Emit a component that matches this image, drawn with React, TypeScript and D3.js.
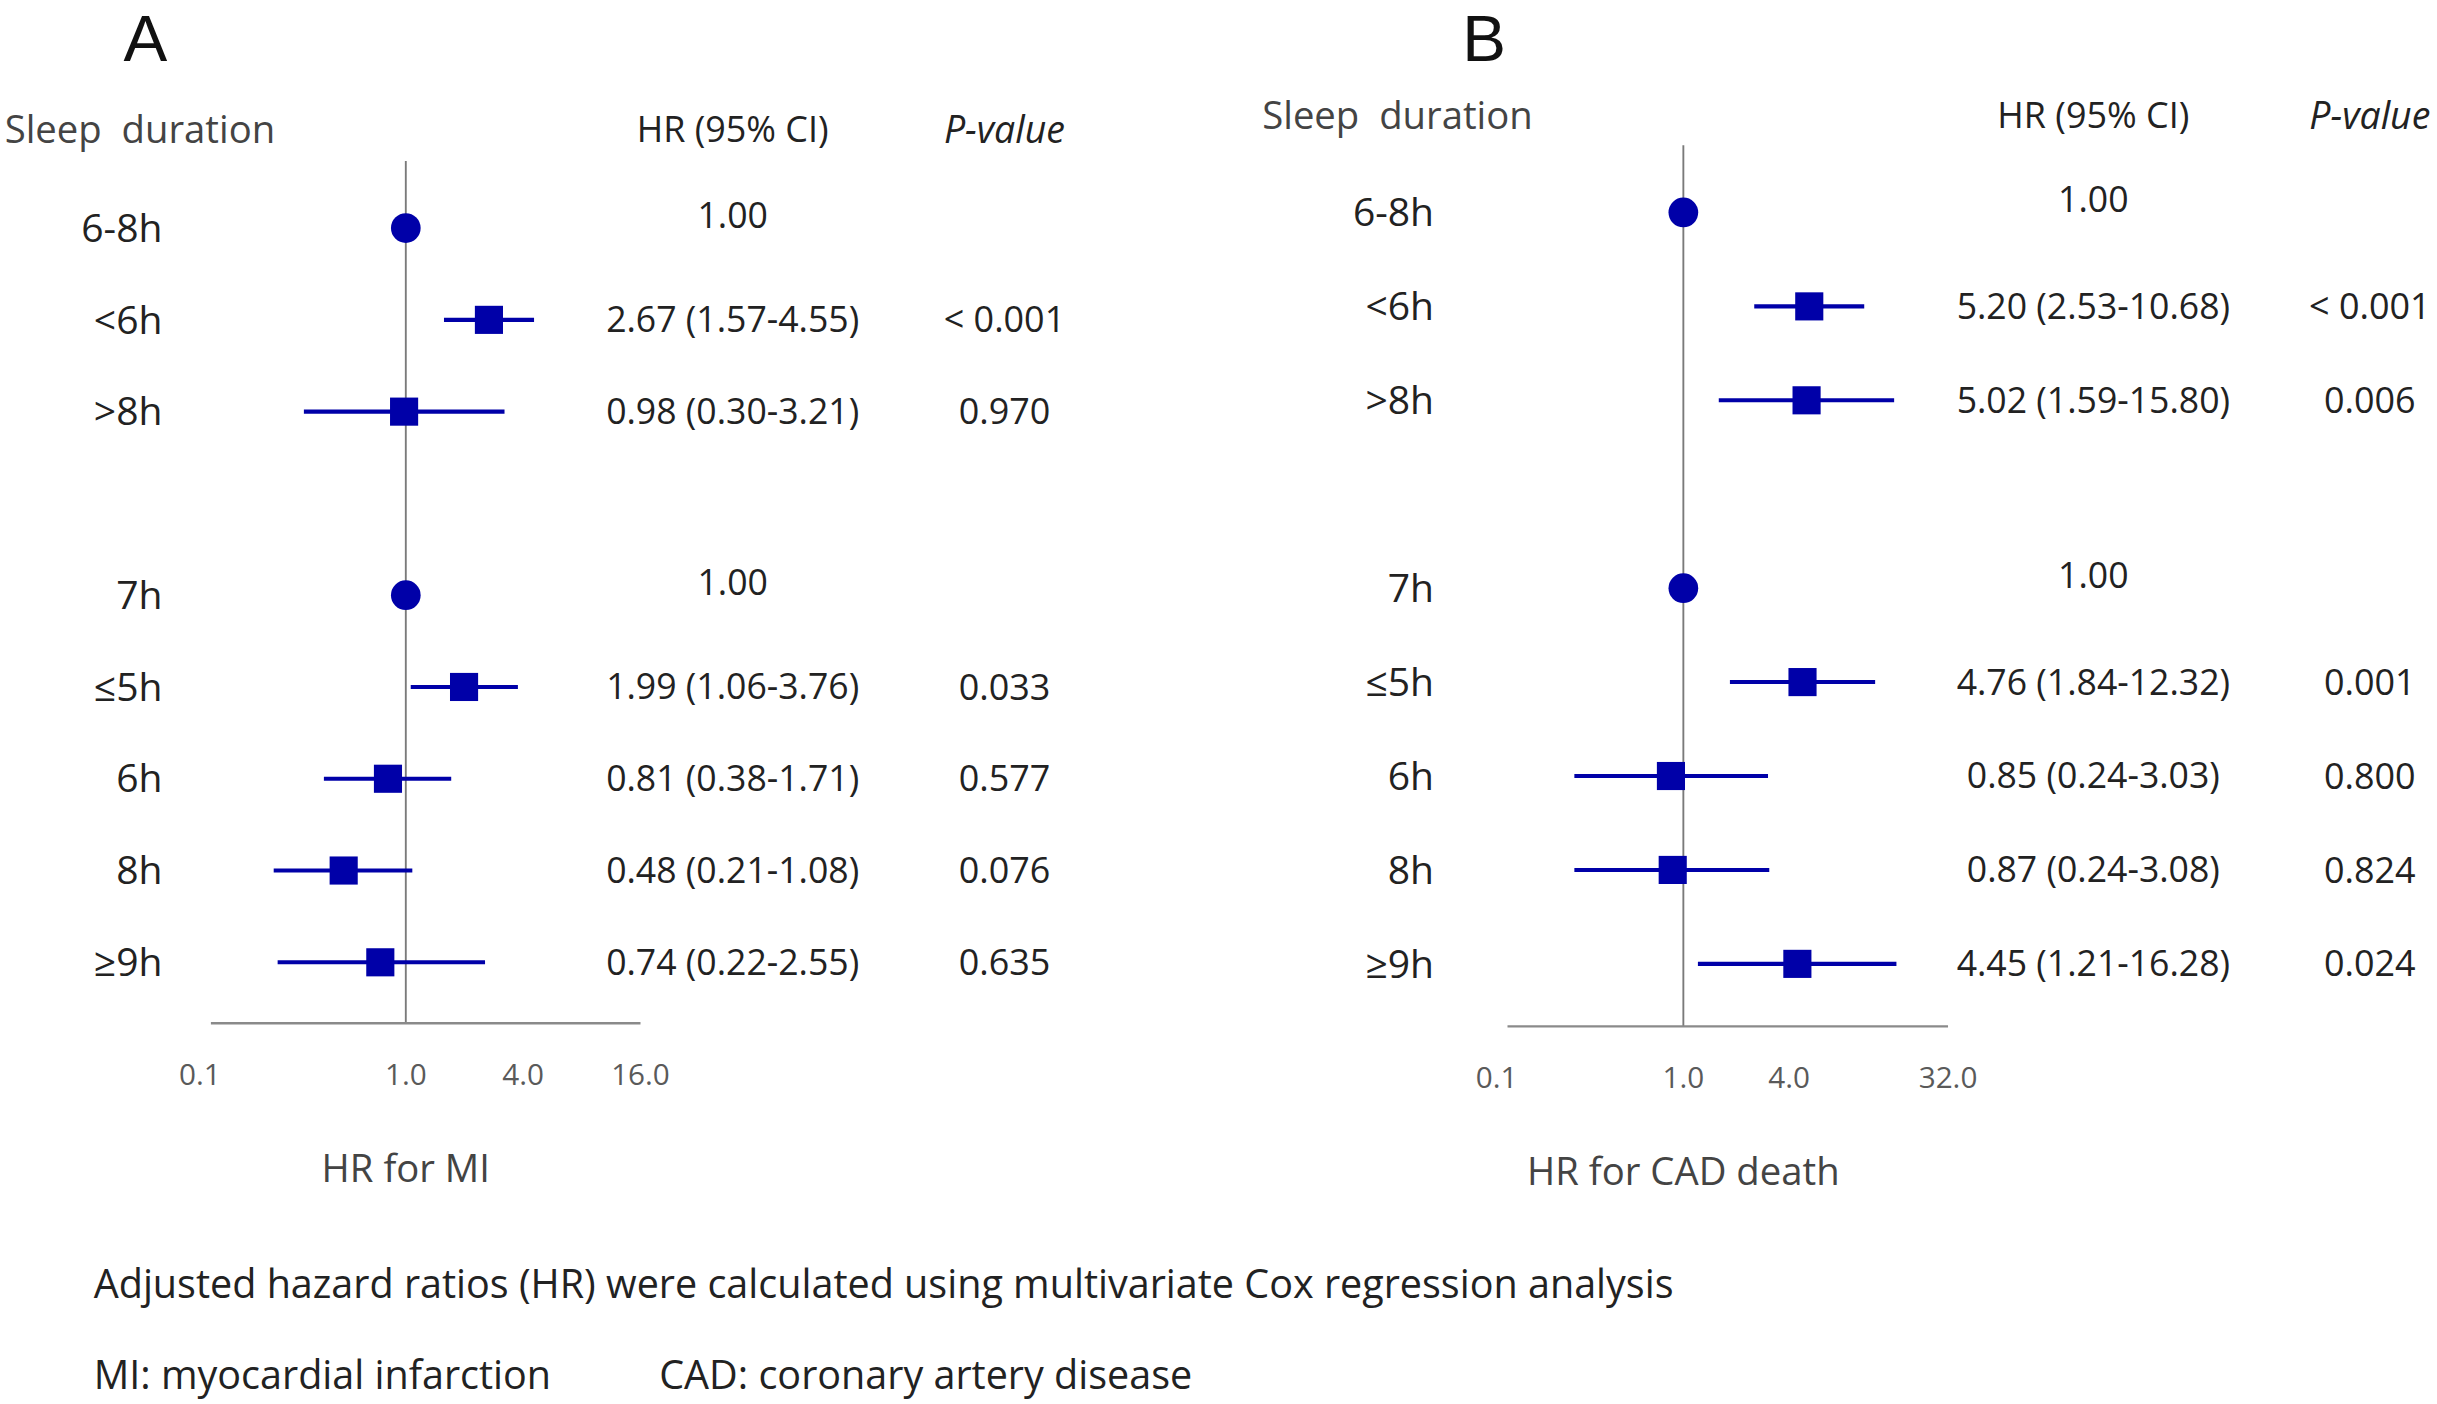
import * as d3 from 'd3';
import React from 'react';

// rows shared by both panels (slot 3 is the blank gap between the two groupings)
const rowLabels = ['6-8h', '<6h', '>8h', '7h', '≤5h', '6h', '8h', '≥9h'];
const rowSlots = [0, 1, 2, 4, 5, 6, 7, 8];
const isReference = [true, false, false, true, false, false, false, false];

// Panel A: HR for MI
const miHR = [1.0, 2.67, 0.98, 1.0, 1.99, 0.81, 0.48, 0.74];
const miLow = [null, 1.57, 0.3, null, 1.06, 0.38, 0.21, 0.22];
const miHigh = [null, 4.55, 3.21, null, 3.76, 1.71, 1.08, 2.55];
const miP = ['', '< 0.001', '0.970', '', '0.033', '0.577', '0.076', '0.635'];
const miTicks = [0.1, 1, 4, 16];

// Panel B: HR for CAD death
const cadHR = [1.0, 5.2, 5.02, 1.0, 4.76, 0.85, 0.87, 4.45];
const cadLow = [null, 2.53, 1.59, null, 1.84, 0.24, 0.24, 1.21];
const cadHigh = [null, 10.68, 15.8, null, 12.32, 3.03, 3.08, 16.28];
const cadP = ['', '< 0.001', '0.006', '', '0.001', '0.800', '0.824', '0.024'];
const cadTicks = [0.1, 1, 4, 32];

const W = 1560;
const H = (W * 1404) / 2437;
const FONT = '"Open Sans", "Noto Sans", sans-serif';
const BLUE = '#0000a8';
const TEXT = '#222';

type PanelProps = {
  letter: string;
  letterX: number;
  headerY: number;
  sleepX: number;
  labelX: number;
  hrX: number;
  pX: number;
  xRange: [number, number];
  domainMax: number;
  rowRange: [number, number];
  refTop: number;
  axisY: number;
  axisTitle: string;
  hr: number[];
  low: (number | null)[];
  high: (number | null)[];
  p: string[];
  ticks: number[];
};

function Panel(props: PanelProps) {
  const x = d3.scaleLog().domain([0.1, props.domainMax]).range(props.xRange);
  const y = d3.scaleLinear().domain([0, 8]).range(props.rowRange);
  const x1 = x(1);
  const sq = 18;

  const fmt = (v: number) => v.toFixed(2);

  return (
    <g fontFamily={FONT}>
      <text
        x={props.letterX}
        y={39}
        fontSize={42}
        fontFamily='"Liberation Sans", Arial, sans-serif'
        textAnchor="middle"
        fill="#111"
      >
        {props.letter}
      </text>
      <text x={props.sleepX} y={props.headerY} dy="0.35em" fontSize={24.5} fill="#444">
        Sleep&#160;&#160;duration
      </text>
      <text x={props.hrX} y={props.headerY} fontSize={23} textAnchor="middle" fill={TEXT} dy="0.35em">
        HR (95% CI)
      </text>
      <text
        x={props.pX}
        y={props.headerY}
        fontSize={24}
        textAnchor="middle"
        fontStyle="italic"
        fill={TEXT}
        dy="0.35em"
      >
        P-value
      </text>

      {/* reference line at HR = 1 and the x axis */}
      <line x1={x1} x2={x1} y1={props.refTop} y2={props.axisY} stroke="#7a7a7a" strokeWidth={1.2} />
      <line
        x1={props.xRange[0]}
        x2={props.xRange[1]}
        y1={props.axisY}
        y2={props.axisY}
        stroke="#8a8a8a"
        strokeWidth={1.5}
      />
      {props.ticks.map((t, i) => (
        <text
          key={t}
          x={x(t)}
          dx={i === 0 ? -7 : 0}
          y={props.axisY + 33}
          dy="0.35em"
          fontSize={19}
          textAnchor="middle"
          fill="#5a5a5a"
        >
          {t.toFixed(1)}
        </text>
      ))}
      <text x={x1} y={props.axisY + 93} dy="0.35em" fontSize={24.5} textAnchor="middle" fill="#444">
        {props.axisTitle}
      </text>

      {rowLabels.map((label, i) => {
        const cy = y(rowSlots[i]);
        const lo = props.low[i];
        const hi = props.high[i];
        const hrText =
          lo === null || hi === null ? fmt(props.hr[i]) : `${fmt(props.hr[i])} (${fmt(lo)}-${fmt(hi)})`;
        const textY = isReference[i] ? cy - 8 : cy;
        return (
          <g key={label}>
            <text x={props.labelX} y={cy} dy="0.35em" fontSize={25} textAnchor="end" fill={TEXT}>
              {label}
            </text>
            {lo !== null && hi !== null && (
              <line x1={x(lo)} x2={x(hi)} y1={cy} y2={cy} stroke={BLUE} strokeWidth={2.6} />
            )}
            {isReference[i] ? (
              <circle cx={x(props.hr[i])} cy={cy} r={9.5} fill={BLUE} />
            ) : (
              <rect x={x(props.hr[i]) - sq / 2} y={cy - sq / 2} width={sq} height={sq} fill={BLUE} />
            )}
            <text x={props.hrX} y={textY} dy="0.35em" fontSize={22.8} textAnchor="middle" fill={TEXT}>
              {hrText}
            </text>
            <text x={props.pX} y={textY} dy="0.35em" fontSize={23} textAnchor="middle" fill={TEXT}>
              {props.p[i]}
            </text>
          </g>
        );
      })}
    </g>
  );
}

export default function App() {
  return (
    <svg
      width={2437}
      height={1404}
      viewBox={`0 0 ${W} ${H}`}
      style={{ position: 'absolute', left: 0, top: 0, display: 'block', background: '#fff' }}
    >
      <rect width={W} height={H} fill="#fff" />
      <Panel
        letter="A"
        letterX={93}
        headerY={83}
        sleepX={3}
        labelX={104}
        hrX={469}
        pX={643}
        xRange={[135, 410]}
        domainMax={16}
        rowRange={[146, 616]}
        refTop={103}
        axisY={655}
        axisTitle="HR for MI"
        hr={miHR}
        low={miLow}
        high={miHigh}
        p={miP}
        ticks={miTicks}
      />
      <Panel
        letter="B"
        letterX={950}
        headerY={74}
        sleepX={808}
        labelX={918}
        hrX={1340}
        pX={1517}
        xRange={[965, 1247]}
        domainMax={32}
        rowRange={[136, 617]}
        refTop={93}
        axisY={657}
        axisTitle="HR for CAD death"
        hr={cadHR}
        low={cadLow}
        high={cadHigh}
        p={cadP}
        ticks={cadTicks}
      />
      <g fontFamily={FONT} fontSize={25.3} fill={TEXT}>
        <text x={60} y={822} dy="0.35em">
          Adjusted hazard ratios (HR) were calculated using multivariate Cox regression analysis
        </text>
        <text x={60} y={880} dy="0.35em">
          MI: myocardial infarction
        </text>
        <text x={422} y={880} dy="0.35em">
          CAD: coronary artery disease
        </text>
      </g>
    </svg>
  );
}
